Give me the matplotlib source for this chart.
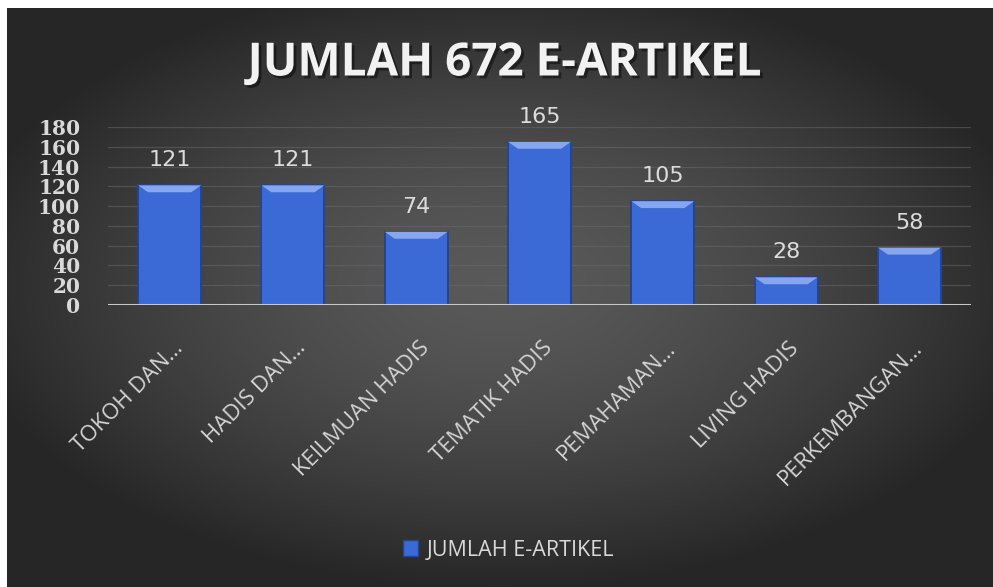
import matplotlib

matplotlib.use("Agg")

import matplotlib.pyplot as plt
import matplotlib.patches as mpatches
import matplotlib.patheffects as pe
import matplotlib.transforms as mtransforms
import numpy as np

categories = [
    "TOKOH DAN…",
    "HADIS DAN…",
    "KEILMUAN HADIS",
    "TEMATIK HADIS",
    "PEMAHAMAN…",
    "LIVING HADIS",
    "PERKEMBANGAN…",
]
values = [121, 121, 74, 165, 105, 28, 58]
y_ticks = [0, 20, 40, 60, 80, 100, 120, 140, 160, 180]
title = "JUMLAH 672 E-ARTIKEL"
series_name = "JUMLAH E-ARTIKEL"

W, H = 993, 587
fig = plt.figure(figsize=(W / 100, H / 100), dpi=100, facecolor="white")

# dark radial backdrop (white margin top/left like the screenshot)
bg = fig.add_axes([7 / W, 0, 1 - 7 / W, (H - 8) / H], zorder=0)
gx, gy = np.meshgrid(np.linspace(-1, 1, 400), np.linspace(-1, 1, 240))
r = np.sqrt(gx ** 2 + ((gy + 0.05) / 0.95) ** 2)
shade = np.clip(0.35 - 0.17 * r ** 1.5, 0.15, 1)
bg.imshow(np.dstack([shade] * 3), aspect="auto", extent=[0, 1, 0, 1], interpolation="bicubic")
bg.axis("off")

ax = fig.add_axes([108 / W, (H - 305) / H, (971 - 108) / W, (305 - 127) / H], zorder=2)
ax.patch.set_alpha(0)
for spine in ax.spines.values():
    spine.set_visible(False)

x = np.arange(len(categories))
bar_w = 0.51
ax.bar(x, values, width=bar_w, color="#3b6ad6", edgecolor="#244690", linewidth=1.4, zorder=3)

# bevelled top highlight on each bar
bevel = 7
inset = 0.08
for xi, v in zip(x, values):
    h = min(bevel, v * 0.4)
    poly = mpatches.Polygon(
        [
            (xi - bar_w / 2, v),
            (xi + bar_w / 2, v),
            (xi + bar_w / 2 - inset, v - h),
            (xi - bar_w / 2 + inset, v - h),
        ],
        closed=True,
        facecolor="#86a6f2",
        edgecolor="none",
        zorder=4,
    )
    ax.add_patch(poly)

for xi, v in zip(x, values):
    ax.annotate(
        f"{v}",
        (xi, v),
        xytext=(0, 19),
        textcoords="offset pixels",
        ha="center",
        va="baseline",
        color="#dcdcdc",
        fontsize=16,
        family="DejaVu Sans",
    )

ax.set_xlim(-0.5, len(categories) - 0.5)
ax.set_ylim(0, 180)
ax.set_yticks(y_ticks)
ax.set_yticklabels(
    [str(t) for t in y_ticks], family="DejaVu Serif", fontsize=14.5, fontweight="bold", color="#d9d9d9"
)
ax.tick_params(axis="y", length=0, pad=20)
ax.grid(axis="y", color="#6a6a6a", alpha=0.5, linewidth=0.9)
ax.set_axisbelow(True)
ax.axhline(0, color="#c8c8c8", linewidth=2.2, zorder=5)

ax.set_xticks(x)
ax.set_xticklabels([])
ax.tick_params(axis="x", length=0)
offset = mtransforms.ScaledTranslation(10 / 100, -40 / 100, fig.dpi_scale_trans)
for xi, label in zip(x, categories):
    ax.text(
        xi,
        0,
        label,
        transform=ax.get_xaxis_transform() + offset,
        rotation=45,
        rotation_mode="anchor",
        ha="right",
        va="center",
        color="#d4d4d4",
        fontsize=16,
        family="Open Sans",
    )

fig.text(
    505 / W,
    1 - 63 / H,
    title,
    ha="center",
    va="center",
    color="#f2f2f2",
    fontsize=33,
    fontweight="bold",
    family="Open Sans",
    path_effects=[pe.withSimplePatchShadow(offset=(2, -2), shadow_rgbFace="black", alpha=0.45)],
    zorder=3,
)

handle = mpatches.Patch(facecolor="#3b6ad6", edgecolor="#244690")
fig.legend(
    [handle],
    [series_name],
    loc="center",
    bbox_to_anchor=(509 / W, 1 - 550 / H),
    frameon=False,
    handlelength=0.7,
    handleheight=0.7,
    handletextpad=0.4,
    prop={"family": "Open Sans", "size": 15.5},
    labelcolor="#d9d9d9",
)

fig.savefig("out.png", dpi=100, facecolor=fig.get_facecolor())
plt.close(fig)
